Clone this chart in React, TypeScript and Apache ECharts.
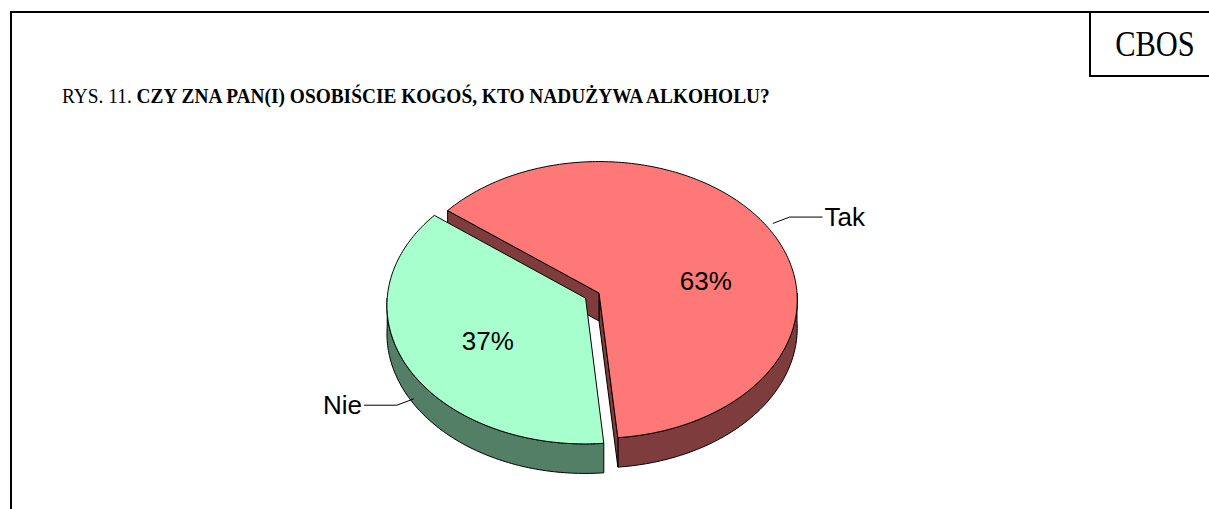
import React, { useEffect, useRef } from "react";
import * as echarts from "echarts";

// ---- data ----
const NAMES = ["Tak", "Nie"];
const VALUES = [63, 37];
const EXPLODE = [0, 0.077];
const FACE_COLORS = ["#FF7878", "#A6FFCC"];
const WALL_COLORS = ["#7E3C3C", "#527F66"];
const TITLE_PREFIX = "RYS. 11. ";
const TITLE_MAIN = "CZY ZNA PAN(I) OSOBIŚCIE KOGOŚ, KTO NADUŻYWA ALKOHOLU?";
const BRAND = "CBOS";

// ---- geometry / layout ----
const CX = 599;
const CY = 293;
const RX = 198;
const RY = 138;
const PERSP = 0.05;
const H = 28;
const START = 308; // deg, clockwise from 12 o'clock
const INNER_R = 0.57;
const INNER_NUDGE = [[9, 25], [3, 5]];
const LEADER_NUDGE = [[4, -5], [7, 4]];

const rad = (d: number) => (d * Math.PI) / 180;
const proj = (u: number, v: number, hgt: number) => {
  const f = 1 / (1 - PERSP * v);
  return [CX + RX * u * f, CY + RY * v * f + hgt * f];
};
const area = (pts: number[][]) => {
  let s = 0;
  for (let i = 0; i < pts.length; i++) {
    const a = pts[i];
    const b = pts[(i + 1) % pts.length];
    s += a[0] * b[1] - b[0] * a[1];
  }
  return s;
};

const total = VALUES.reduce((a, b) => a + b, 0);
const ANGLES = (() => {
  let acc = START;
  return VALUES.map((v) => {
    const a0 = acc;
    const a1 = acc + (v / total) * 360;
    acc = a1;
    return [a0, a1];
  });
})();

function renderItem(params: any) {
  const i = params.dataIndex;
  const [a0, a1] = ANGLES[i];
  const mid = (a0 + a1) / 2;
  const ex = EXPLODE[i] * Math.sin(rad(mid));
  const ey = -EXPLODE[i] * Math.cos(rad(mid));
  const pt = (th: number, r: number, hgt: number) =>
    proj(ex + r * Math.sin(rad(th)), ey - r * Math.cos(rad(th)), hgt);
  const arc = (s: number, e: number, hgt: number) => {
    const pts: number[][] = [];
    const n = Math.max(2, Math.ceil(Math.abs(e - s)));
    for (let k = 0; k <= n; k++) pts.push(pt(s + ((e - s) * k) / n, 1, hgt));
    return pts;
  };
  const children: any[] = [];
  const stroke = { stroke: "#000", lineWidth: 1 };

  // outer wall (front half only)
  for (let k = -1; k <= 2; k++) {
    const lo = Math.max(a0, 90 + 360 * k);
    const hi = Math.min(a1, 270 + 360 * k);
    if (hi > lo) {
      const pts = [...arc(lo, hi, 0), ...arc(lo, hi, H).reverse()];
      children.push({
        type: "polygon",
        shape: { points: pts },
        style: { fill: WALL_COLORS[i], ...stroke },
        z2: 1,
      });
    }
  }
  // cut walls
  const apT = proj(ex, ey, 0);
  const apB = proj(ex, ey, H);
  const endWall = [apT, pt(a1, 1, 0), pt(a1, 1, H), apB];
  const startWall = [apT, apB, pt(a0, 1, H), pt(a0, 1, 0)];
  [endWall, startWall].forEach((w) => {
    if (area(w) > 0) {
      children.push({
        type: "polygon",
        shape: { points: w },
        style: { fill: WALL_COLORS[i], ...stroke, lineJoin: "round" },
        z2: 2,
      });
    }
  });
  // top face
  children.push({
    type: "polygon",
    shape: { points: [apT, ...arc(a0, a1, 0)] },
    style: { fill: FACE_COLORS[i], ...stroke },
    z2: 3,
  });
  // inner percentage label
  const ip = pt(mid, INNER_R, 0);
  children.push({
    type: "text",
    x: ip[0] + INNER_NUDGE[i][0],
    y: ip[1] + INNER_NUDGE[i][1],
    style: {
      text: Math.round((VALUES[i] / total) * 100) + "%",
      fontFamily: "Liberation Sans",
      fontSize: 26,
      fill: "#000",
      align: "center",
      verticalAlign: "middle",
    },
    z2: 10,
  });
  // outside label with leader
  const dirV = -Math.cos(rad(mid));
  const anc = pt(mid, 1, dirV > 0 ? H : 0);
  anc[0] += LEADER_NUDGE[i][0];
  anc[1] += LEADER_NUDGE[i][1];
  let dx = Math.sin(rad(mid));
  let dy = dirV * 0.7;
  const len = Math.hypot(dx, dy);
  dx /= len;
  dy /= len;
  const elbow = [anc[0] + 18 * dx, anc[1] + 18 * dy];
  const sgn = dx >= 0 ? 1 : -1;
  const end = [elbow[0] + sgn * 33, elbow[1]];
  children.push({
    type: "polyline",
    shape: { points: [anc, elbow, end] },
    style: { stroke: "#000", lineWidth: 1, fill: null },
    z2: 10,
  });
  children.push({
    type: "text",
    x: end[0] + sgn * 2,
    y: end[1],
    style: {
      text: NAMES[i],
      fontFamily: "Liberation Sans",
      fontSize: 26,
      fill: "#000",
      align: sgn > 0 ? "left" : "right",
      verticalAlign: "middle",
    },
    z2: 10,
  });
  return { type: "group", children };
}

export default function App() {
  const ref = useRef<HTMLDivElement>(null);
  useEffect(() => {
    document.body.style.margin = "0";
    const chart = echarts.init(ref.current!, undefined, { renderer: "svg" });
    chart.setOption({
      animation: false,
      backgroundColor: "#fff",
      graphic: {
        elements: [
          { type: "line", shape: { x1: 11, y1: 12, x2: 1209, y2: 12 }, style: { stroke: "#000", lineWidth: 2 } },
          { type: "line", shape: { x1: 11, y1: 11, x2: 11, y2: 509 }, style: { stroke: "#000", lineWidth: 2 } },
          { type: "line", shape: { x1: 1090, y1: 12, x2: 1090, y2: 77 }, style: { stroke: "#000", lineWidth: 2 } },
          { type: "line", shape: { x1: 1089, y1: 76, x2: 1209, y2: 76 }, style: { stroke: "#000", lineWidth: 2 } },
          {
            type: "text",
            x: 1155,
            y: 44,
            scaleX: 0.87,
            style: {
              text: BRAND,
              fontFamily: "Liberation Serif",
              fontSize: 35,
              fill: "#000",
              align: "center",
              verticalAlign: "middle",
            },
          },
          {
            type: "text",
            x: 62,
            y: 96,
            scaleX: 0.88,
            style: {
              text: TITLE_PREFIX + "{b|" + TITLE_MAIN + "}",
              fontFamily: "Liberation Serif",
              fontSize: 22,
              fill: "#000",
              verticalAlign: "middle",
              rich: {
                b: { fontFamily: "Liberation Serif", fontSize: 22, fontWeight: "bold", fill: "#000" },
              },
            },
          },
        ],
      },
      series: [
        {
          type: "custom",
          coordinateSystem: "none",
          renderItem,
          data: VALUES.map((v, i) => ({ name: NAMES[i], value: v })),
        },
      ],
    });
    return () => chart.dispose();
  }, []);
  return <div ref={ref} style={{ width: 1209, height: 509 }} />;
}
